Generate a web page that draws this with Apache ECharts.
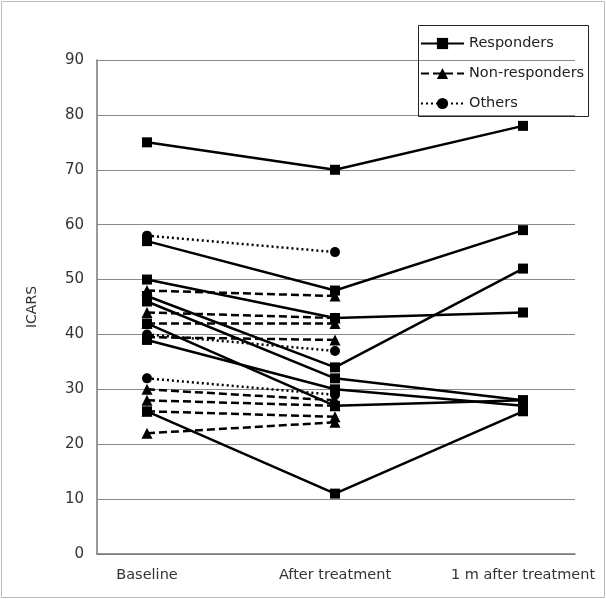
<!DOCTYPE html>
<html>
<head>
<meta charset="utf-8">
<title>ICARS</title>
<script src="https://cdn.jsdelivr.net/npm/echarts@6/dist/echarts.min.js"></script>
<style>
    html, body { margin: 0; padding: 0; background: #fff; }
    #chart { width: 606px; height: 599px; }
</style>
</head>
<body>
<div id="chart"></div>
<script>
// categories and values
var categories = ['Baseline', 'After treatment', '1 m after treatment'];
var yTicks = [0, 10, 20, 30, 40, 50, 60, 70, 80, 90];

var responders = [
    [75, 70, 78],
    [57, 48, 59],
    [50, 43, 44],
    [47, 34, 52],
    [46, 32, 28],
    [42, 27, 28],
    [39, 30, 27],
    [26, 11, 26]
];
var nonResponders = [
    [48, 47],
    [44, 43],
    [42, 42],
    [39.5, 39],
    [30, 28],
    [28, 27],
    [26, 25],
    [22, 24]
];
var others = [
    [58, 55],
    [40, 37],
    [32, 29]
];

var font = 'DejaVu Sans';

function makeSeries(name, rows, symbol, size, lineType) {
    return rows.map(function (row) {
        return {
            name: name,
            type: 'line',
            xAxisIndex: 1,
            yAxisIndex: 1,
            data: row,
            symbol: symbol,
            symbolSize: size,
            showSymbol: true,
            animation: false,
            itemStyle: { color: '#000' },
            lineStyle: { color: '#000', width: 2.5, type: lineType },
            emphasis: { disabled: true }
        };
    });
}

var series = []
    .concat(makeSeries('Others', others, 'circle', 10, [2, 3]))
    .concat(makeSeries('Non-responders', nonResponders, 'triangle', 11, [8, 4]))
    .concat(makeSeries('Responders', responders, 'rect', 10, 'solid'));

var chart = echarts.init(document.getElementById('chart'));
chart.setOption({
    backgroundColor: '#fff',
    textStyle: { fontFamily: font },
    graphic: [
        {
            type: 'rect',
            shape: { x: 1.5, y: 1.5, width: 603, height: 596 },
            style: { fill: 'none', stroke: '#bbb', lineWidth: 1 },
            silent: true
        },
        {
            type: 'rect',
            shape: { x: 418.5, y: 25.5, width: 170, height: 91 },
            style: { fill: 'none', stroke: '#222', lineWidth: 1 },
            z: 100,
            silent: true
        }
    ],
    legend: {
        data: ['Responders', 'Non-responders', 'Others'],
        orient: 'vertical',
        left: 420,
        top: 36,
        padding: 0,
        itemWidth: 43,
        itemHeight: 14,
        itemGap: 15,
        selectedMode: false,
        textStyle: { fontFamily: font, fontSize: 14.5, color: '#222' }
    },
    grid: [
        { left: 97, top: 60, width: 478, height: 494 },
        { left: 147, top: 60, width: 376, height: 494 }
    ],
    xAxis: [
        {
            gridIndex: 0,
            type: 'category',
            data: [''],
            axisLine: { show: true, lineStyle: { color: '#777', width: 1.5 } },
            axisTick: { show: false },
            axisLabel: { show: false },
            splitLine: { show: false }
        },
        {
            gridIndex: 1,
            type: 'category',
            data: categories,
            boundaryGap: false,
            axisLine: { show: false },
            axisTick: { show: false },
            axisLabel: {
                interval: 0,
                hideOverlap: false,
                margin: 14,
                fontSize: 14.5,
                color: '#333',
                fontFamily: font
            },
            splitLine: { show: false }
        }
    ],
    yAxis: [
        {
            gridIndex: 0,
            type: 'value',
            min: yTicks[0],
            max: yTicks[yTicks.length - 1],
            interval: 10,
            name: 'ICARS',
            nameLocation: 'middle',
            nameGap: 58,
            nameTextStyle: { fontSize: 14, color: '#333', fontFamily: font },
            axisLine: { show: true, lineStyle: { color: '#777', width: 1.5 } },
            axisTick: { show: false },
            axisLabel: { margin: 13, fontSize: 15, color: '#333', fontFamily: font },
            splitLine: { show: true, lineStyle: { color: '#8a8a8a', width: 1 } }
        },
        {
            gridIndex: 1,
            type: 'value',
            min: yTicks[0],
            max: yTicks[yTicks.length - 1],
            interval: 10,
            show: false,
            splitLine: { show: false }
        }
    ],
    series: series
});
</script>
</body>
</html>
